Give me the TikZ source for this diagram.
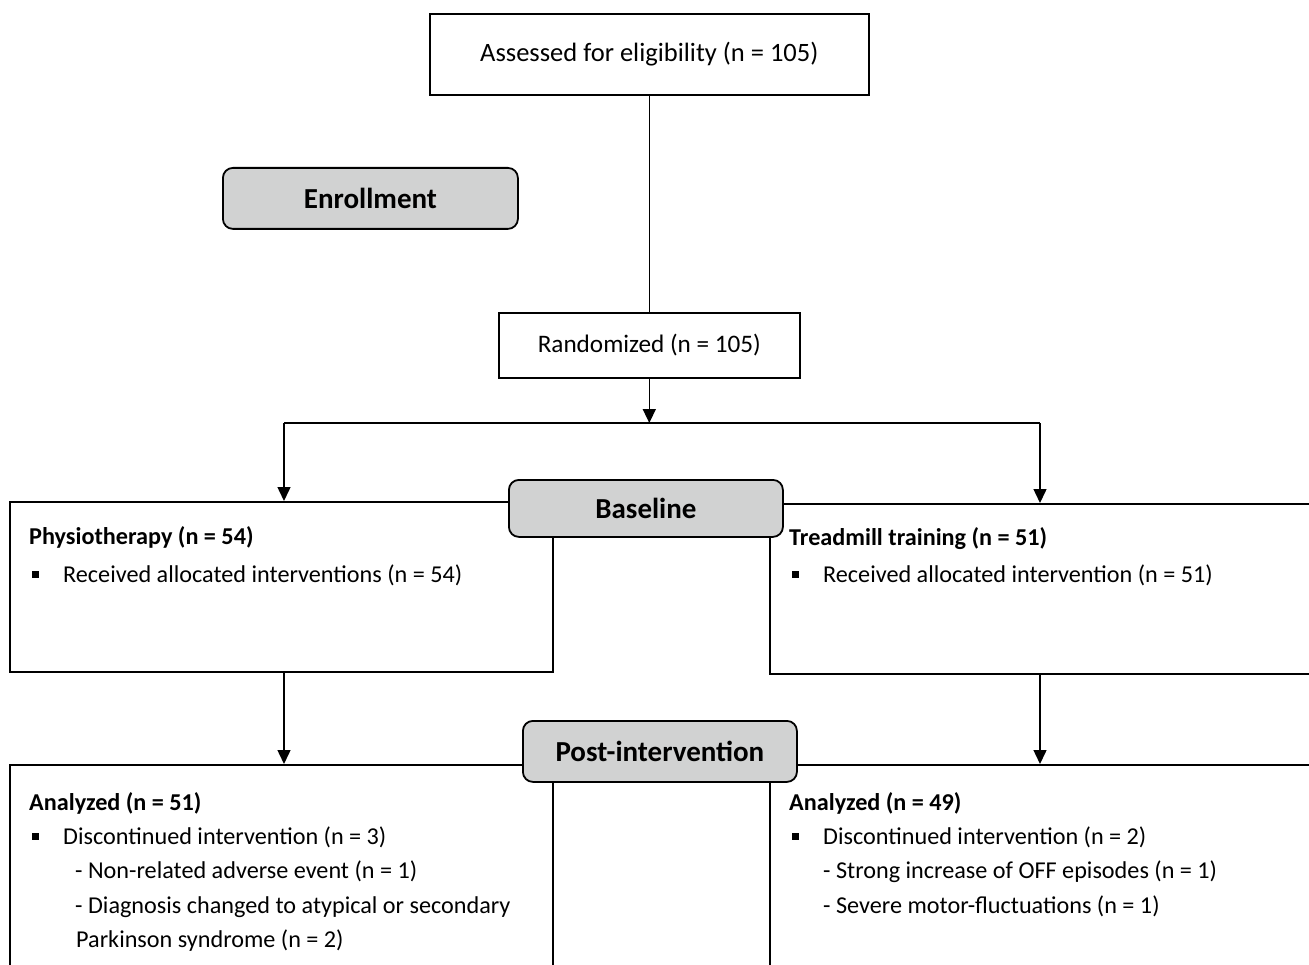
\documentclass[tikz,border=0pt]{standalone}
\usepackage{fontspec}
\setmainfont{Carlito}
\usetikzlibrary{arrows.meta}
\definecolor{boxgray}{RGB}{209,210,210}
\begin{document}
\begin{tikzpicture}[x=1pt,y=-1pt,
  box/.style={draw, line width=1.6pt, inner sep=0, anchor=north west, font=\fontsize{24.2}{29}\selectfont},
  stage/.style={draw, line width=1.8pt, rounded corners=10pt, fill=boxgray, font=\fontsize{29}{34}\selectfont\bfseries, anchor=north west, inner sep=0},
  conn/.style={line width=1.5pt},
  arr/.style={conn, -{Triangle[length=14pt,width=13pt]}},
  txt/.style={anchor=base west, inner sep=0, font=\fontsize{24.2}{29}\selectfont},
  hd/.style={anchor=base west, inner sep=0, font=\fontsize{24.2}{29}\selectfont\bfseries},
  bul/.style={fill=black, minimum size=7pt, inner sep=0, anchor=center}]
\useasboundingbox (0,0) rectangle (1309,965);
\clip (0,0) rectangle (1309,965);
% boxes
\node[box, minimum width=439pt, minimum height=81pt, font=\fontsize{26.5}{31}\selectfont] (assess) at (429,13) {Assessed for eligibility (n = 105)};
\node[box, minimum width=301pt, minimum height=65pt, font=\fontsize{25.2}{30}\selectfont] (rand) at (498,312) {Randomized (n = 105)};
\node[box, minimum width=543pt, minimum height=170pt] (phys) at (9,501) {};
\node[box, minimum width=560pt, minimum height=170pt] (tread) at (769,503) {};
\node[box, minimum width=543pt, minimum height=250pt] (anl1) at (9,764) {};
\node[box, minimum width=560pt, minimum height=250pt] (anl2) at (769,764) {};
% connectors
\coordinate (L) at (284,423);
\coordinate (R) at (1040,423);
\draw[conn] (assess.south) -- (rand.north);
\draw[arr] (rand.south) -- (rand.south |- L);
\draw[conn] (L) -- (R);
\draw[arr] (L) -- (L |- phys.north);
\draw[arr] (R) -- (R |- tread.north);
\draw[arr] (phys.south -| L) -- (L |- anl1.north);
\draw[arr] (tread.south -| R) -- (R |- anl2.north);
% stage labels
\node[stage, minimum width=295pt, minimum height=61pt] (enr) at (222,167) {Enrollment};
\node[stage, minimum width=274pt, minimum height=57pt] (base) at (508,479) {Baseline};
\node[stage, minimum width=274pt, minimum height=61pt] (post) at (522,720) {Post-intervention};
% texts left top
\node[hd] (t1) at (29,544) {Physiotherapy (n = 54)};
\node[bul] (b1) at (35,574) {};
\node[txt] (t2) at (63,582) {Received allocated interventions (n = 54)};
% right top
\node[hd] (t3) at (789,545) {Treadmill training (n = 51)};
\node[bul] (b2) at (795,574) {};
\node[txt] (t4) at (823,582) {Received allocated intervention (n = 51)};
% left bottom
\node[hd] (t5) at (29,810) {Analyzed (n = 51)};
\node[bul] (b3) at (35,836) {};
\node[txt] (t6) at (63,844) {Discontinued intervention (n = 3)};
\node[txt] (t7) at (75,878) {- Non-related adverse event (n = 1)};
\node[txt] (t8) at (75,913) {- Diagnosis changed to atypical or secondary};
\node[txt] (t9) at (76,947) {Parkinson syndrome (n = 2)};
% right bottom
\node[hd] (t10) at (789,810) {Analyzed (n = 49)};
\node[bul] (b4) at (795,836) {};
\node[txt] (t11) at (823,844) {Discontinued intervention (n = 2)};
\node[txt] (t12) at (823,878) {- Strong increase of OFF episodes (n = 1)};
\node[txt] (t13) at (823,913) {- Severe motor-fluctuations (n = 1)};
\end{tikzpicture}
\end{document}
